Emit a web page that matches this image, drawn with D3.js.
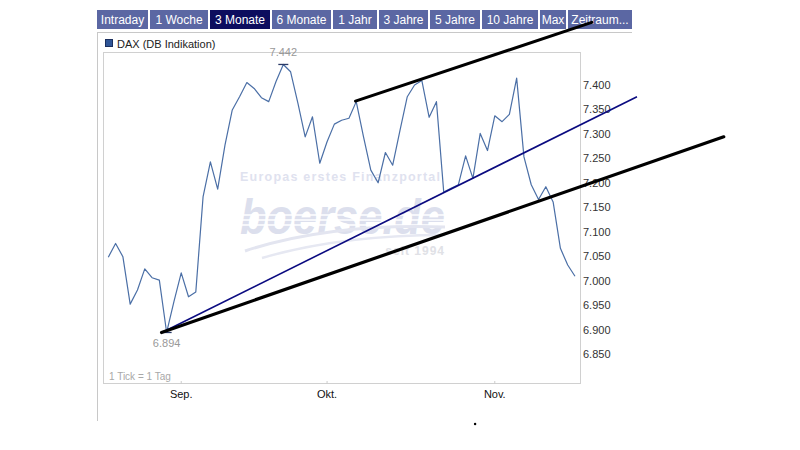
<!DOCTYPE html>
<html><head><meta charset="utf-8">
<script src="https://cdn.jsdelivr.net/npm/d3@7"></script>
<style>
html,body{margin:0;padding:0;background:#fff;}
svg{display:block;font-family:"Liberation Sans",Arial,sans-serif;}
</style></head>
<body>
<svg id="c" width="800" height="450"></svg>
<script>
// ---- data ----
const tabs = ["Intraday","1 Woche","3 Monate","6 Monate","1 Jahr","3 Jahre","5 Jahre","10 Jahre","Max","Zeitraum..."];
const selectedTab = "3 Monate";
const seriesName = "DAX (DB Indikation)";
const daxValues = [7048,7076,7049,6952,6981,7024,7006,7001,6894,6957,
  7016,6967,6977,7172,7243,7187,7277,7349,7376,7405,
  7393,7374,7366,7407,7442,7427,7363,7294,7335,7240,
  7284,7320,7328,7332,7366,7294,7226,7200,7262,7236,
  7307,7376,7400,7409,7334,7366,7181,7189,7196,7255,
  7209,7301,7266,7337,7325,7340,7414,7253,7196,7166,
  7192,7161,7066,7032,7009];
const monthTickIndex = [10,30,53];
const monthTickLabels = ["Sep.","Okt.","Nov."];
const yTicks = [6850,6900,6950,7000,7050,7100,7150,7200,7250,7300,7350,7400];
// hand-drawn trend lines: [startIndex,startValue],[endIndex,endValue]
const trendUpper = [[33.9,7367],[66.3,7528]];
const trendNavy  = [[7.5,6895],[72.5,7376]];
const trendLower = [[7.3,6894],[84.4,7294]];
const strayDot = [50.3,6707];

// ---- layout ----
const svg = d3.select("#c");
const plot = {l:103, r:580, t:52, b:383};
const x = d3.scaleLinear().domain([0, daxValues.length-1]).range([108.3, 575]);
const y = d3.scaleLinear().domain([6850, 7400]).range([354, 85]);
const fmt = v => d3.format(",")(v).replace(/,/g, ".");

// tabs
const tabBounds = [[97,148],[150,208],[210,270],[272,331],[333,377],[379,428],[430,480],[482,538],[540,566],[568,632]];
const tg = svg.append("g");
tabs.forEach((t,i)=>{
  const [a,b] = tabBounds[i];
  tg.append("rect").attr("x",a).attr("y",10).attr("width",b-a).attr("height",19)
    .attr("fill", t===selectedTab ? "#0d0d5e" : "#5b67a3");
  tg.append("text").attr("x",(a+b)/2).attr("y",24).attr("text-anchor","middle")
    .attr("font-size",12).attr("fill","#fff").text(t);
});
// frame lines
svg.append("line").attr("x1",97).attr("x2",632).attr("y1",32.5).attr("y2",32.5).attr("stroke","#c8c8c8");
svg.append("line").attr("x1",97.5).attr("x2",97.5).attr("y1",33).attr("y2",421).attr("stroke","#c8c8c8");

// legend
svg.append("rect").attr("x",105.5).attr("y",39.5).attr("width",7).attr("height",7)
  .attr("fill","#2f5597").attr("stroke","#1b2f5e");
svg.append("text").attr("x",117).attr("y",48).attr("font-size",11).attr("fill","#222").text(seriesName);

// plot box
svg.append("rect").attr("x",plot.l+0.5).attr("y",plot.t+0.5).attr("width",plot.r-plot.l).attr("height",plot.b-plot.t)
  .attr("fill","#fff").attr("stroke","#d0d0d0");

// watermark
const wm = svg.append("g");
wm.append("text").attr("x",240).attr("y",181).attr("font-size",12.5).attr("font-weight","bold")
  .attr("fill","#dfe2ef").attr("textLength",200).attr("lengthAdjust","spacing").text("Europas erstes Finanzportal");
wm.append("text").attr("x",240).attr("y",234).attr("font-size",50).attr("font-weight","bold").attr("font-style","italic")
  .attr("fill","#dcdfed").attr("textLength",205).attr("lengthAdjust","spacingAndGlyphs").text("boerse.de");
[215,220,225].forEach(yy=>{
  wm.append("line").attr("x1",238).attr("x2",452).attr("y1",yy).attr("y2",yy).attr("stroke","#fff").attr("stroke-width",1.4);
});
wm.append("path").attr("d","M245,251 Q330,223 445,227").attr("fill","none").attr("stroke","#e3e5f0").attr("stroke-width",3);
wm.append("path").attr("d","M262,258 Q340,235 445,235").attr("fill","none").attr("stroke","#e6e8f2").attr("stroke-width",2.5);
wm.append("text").attr("x",445).attr("y",255).attr("text-anchor","end").attr("font-size",12).attr("font-weight","bold")
  .attr("fill","#e0e1e6").attr("letter-spacing",1).text("seit 1994");

// y axis labels
svg.append("g").selectAll("text").data(yTicks).join("text")
  .attr("x",583).attr("y",d=>y(d)+4).attr("font-size",11).attr("fill","#333").text(d=>fmt(d));

// x axis labels + ticks
svg.append("g").selectAll("text").data(monthTickIndex).join("text")
  .attr("x",d=>x(d)).attr("y",398).attr("text-anchor","middle").attr("font-size",11).attr("fill","#111")
  .text((d,i)=>monthTickLabels[i]);
svg.append("g").selectAll("line").data(monthTickIndex).join("line")
  .attr("x1",d=>x(d)).attr("x2",d=>x(d)).attr("y1",plot.b-2).attr("y2",plot.b+1).attr("stroke","#ccc");

svg.append("text").attr("x",109).attr("y",380).attr("font-size",10).attr("fill","#a8a8a8").text("1 Tick = 1 Tag");

// series line
const line = d3.line().x((d,i)=>x(i)).y(d=>y(d));
svg.append("path").datum(daxValues).attr("d",line).attr("fill","none")
  .attr("stroke","#4b6fa6").attr("stroke-width",1.2).attr("stroke-linejoin","round");

// min / max markers
const maxI = daxValues.indexOf(d3.max(daxValues));
const minI = daxValues.indexOf(d3.min(daxValues));
[[maxI,-8],[minI,15]].forEach(([i,dy])=>{
  svg.append("line").attr("x1",x(i)-5).attr("x2",x(i)+5).attr("y1",y(daxValues[i])).attr("y2",y(daxValues[i]))
    .attr("stroke","#2a3a66").attr("stroke-width",1.3);
  svg.append("text").attr("x",x(i)).attr("y",y(daxValues[i])+dy).attr("text-anchor","middle")
    .attr("font-size",11).attr("fill","#999").text(fmt(daxValues[i]));
});

// trend lines
const tl = d3.line().x(d=>x(d[0])).y(d=>y(d[1]));
svg.append("path").datum(trendNavy).attr("d",tl).attr("stroke","#0b0b80").attr("stroke-width",1.6).attr("fill","none");
svg.append("path").datum(trendLower).attr("d",tl).attr("stroke","#000").attr("stroke-width",3.2).attr("fill","none").attr("stroke-linecap","round");
svg.append("path").datum(trendUpper).attr("d",tl).attr("stroke","#000").attr("stroke-width",3).attr("fill","none").attr("stroke-linecap","round");
svg.append("circle").attr("cx",x(strayDot[0])).attr("cy",y(strayDot[1])).attr("r",1.2).attr("fill","#000");
</script>
</body></html>
